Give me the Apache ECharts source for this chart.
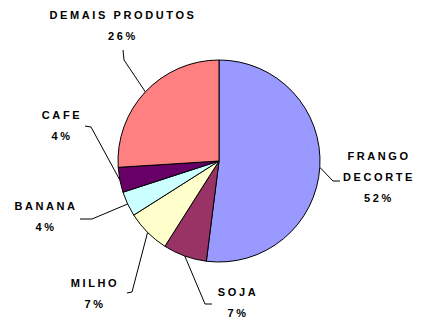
<!DOCTYPE html>
<html>
<head>
<meta charset="utf-8">
<script src="https://cdn.jsdelivr.net/npm/echarts@6/dist/echarts.min.js"></script>
<style>
  html, body { margin: 0; padding: 0; background: #fff; }
  #chart { width: 422px; height: 322px; letter-spacing: 2.6px; }
</style>
</head>
<body>
<div id="chart"></div>
<script>
// Production shares (%)
var categories = ['FRANGO\nDECORTE', 'SOJA', 'MILHO', 'BANANA', 'CAFE', 'DEMAIS PRODUTOS'];
var shares = [52, 7, 7, 4, 4, 26];
var sliceColors = ['#9999FF', '#993366', '#FFFFCC', '#CCFFFF', '#660066', '#FF8080'];
var innerNote = '37';

// Label block centres and leader-line bends/ends, per slice
var labelCentres = [[379, 177], [238, 302], [95, 293], [46, 216], [62, 125], [123, 25]];
var lineBends = [[333, 181], [205, 304], [132, 292], [92, 219], [91, 127], [124, 60]];
var lineEnds = [[340, 181], [212, 304], [127, 293], [80, 219], [85, 126], [123, 50]];

var font = '"Liberation Sans", Arial, sans-serif';

var chart = echarts.init(document.getElementById('chart'), null, { renderer: 'svg' });
chart.setOption({
  backgroundColor: '#ffffff',
  animation: false,
  series: [{
    type: 'pie',
    center: [219, 161],
    radius: 101,
    startAngle: 90,
    clockwise: true,
    avoidLabelOverlap: false,
    data: categories.map(function (name, i) {
      return { name: name, value: shares[i], itemStyle: { color: sliceColors[i] } };
    }),
    itemStyle: { borderColor: '#000', borderWidth: 1 },
    emphasis: { disabled: true },
    label: {
      show: true,
      formatter: '{b}\n{c}%',
      color: '#000',
      fontFamily: font,
      fontWeight: 'bold',
      fontSize: 11,
      lineHeight: 21
    },
    labelLine: {
      show: true,
      lineStyle: { color: '#000', width: 1 }
    },
    labelLayout: function (p) {
      var i = p.dataIndex;
      return {
        x: labelCentres[i][0],
        y: labelCentres[i][1],
        align: 'center',
        verticalAlign: 'middle',
        labelLinePoints: [p.labelLinePoints[0], lineBends[i], lineEnds[i]]
      };
    }
  }],
  graphic: [{
    type: 'text',
    left: 158,
    top: 111,
    style: {
      text: innerNote,
      fill: '#000',
      font: 'bold 11px ' + font
    }
  }]
});
</script>
</body>
</html>
